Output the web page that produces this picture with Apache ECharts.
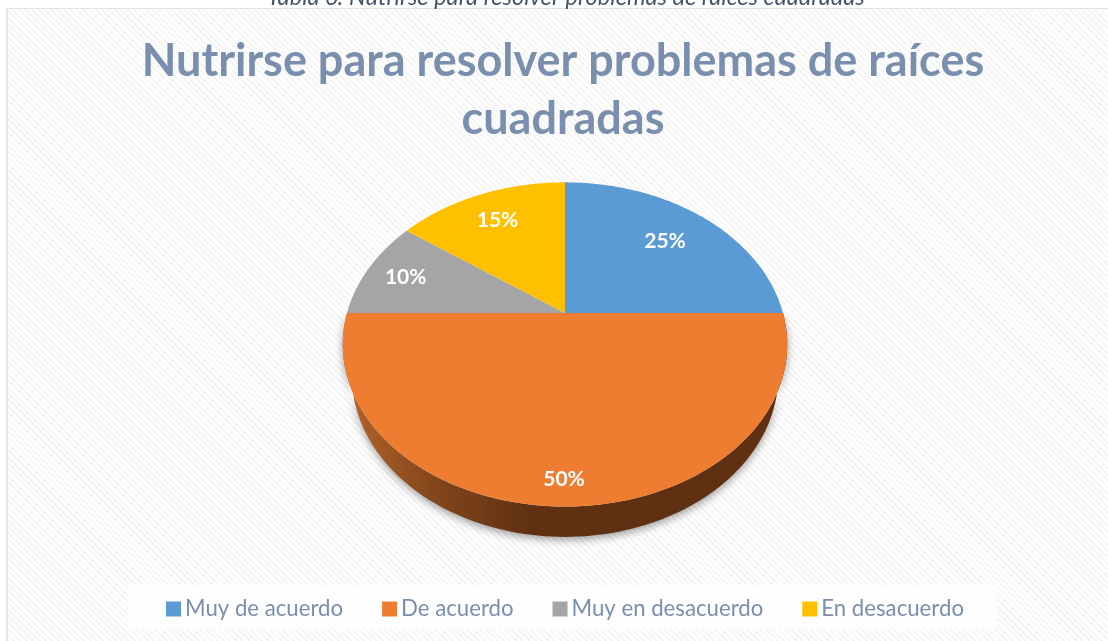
<!DOCTYPE html>
<html lang="es">
<head>
    <meta charset="UTF-8">
    <title>Nutrirse para resolver problemas de raíces cuadradas</title>
    <style>
        html, body { margin: 0; padding: 0; background: #fff; overflow: hidden; }
        #panel {
            position: absolute;
            left: 6px; top: 8px; width: 1110px; height: 640px;
            border-left: 2px solid #dfe4ea;
            border-top: 1px solid #dfe4ea;
            background: repeating-linear-gradient(45deg, #f5f5f5 0, #f5f5f5 2px, #fff 2px, #fff 4.5px);
        }
        #chart { position: absolute; left: 0; top: 0; width: 1108px; height: 641px; }
    </style>
</head>
<body>
    <div id="panel"></div>
    <div id="chart"></div>
<script src="https://cdn.jsdelivr.net/npm/echarts@6/dist/echarts.min.js"></script>
<script>
    var caption = 'Tabla 6: Nutrirse para resolver problemas de raíces cuadradas';
    var chartTitle = 'Nutrirse para resolver problemas de raíces\ncuadradas';
    var categories = ['Muy de acuerdo', 'De acuerdo', 'Muy en desacuerdo', 'En desacuerdo'];
    var values = [25, 50, 10, 15];
    var colors = ['#5b9bd5', '#ef7d31', '#a5a5a5', '#ffc000'];

    // the pie is tilted with a perspective, so a plain pie series can't do it
    var cx = 565, cy = 313, rx = 218, tilt = 156, persp = 0.194;
    var baseScale = 0.96, baseDrop = 30.7;
    var labelRadius = [0.72, 0.88, 0.8, 0.76];

    function project(theta, r, scale, drop) {
        var u = Math.sin(theta) * r * scale, v = Math.cos(theta) * r;
        var d = 1 - persp * v;
        return [cx + rx * u / d, cy + (tilt * v * scale + drop) / d];
    }

    function angle(pct) {
        // 0 is at the top, going clockwise; v in project points to the viewer
        return Math.PI - pct / 100 * 2 * Math.PI;
    }

    function makeItem(idx) {
        return function (params, api) {
            var a0 = angle(api.value(0)), a1 = angle(api.value(1));
            var steps = 120, top = [[cx, cy]], front = [], i, t;
            for (i = 0; i <= steps; i++) {
                t = a0 + (a1 - a0) * i / steps;
                top.push(project(t, 1, 1, 0));
                if (Math.cos(t) >= -0.001) front.push(t);
            }
            var children = [];
            if (front.length > 1) {
                var upper = front.map(function (t) { return project(t, 1, 1, 0); });
                var lower = front.map(function (t) { return project(t, 1, baseScale, baseDrop); }).reverse();
                children.push({
                    type: 'polygon',
                    shape: { points: upper.concat(lower) },
                    style: {
                        fill: new echarts.graphic.LinearGradient(0, 0, 1, 0, [
                            { offset: 0, color: '#b5652a' },
                            { offset: 0.2, color: '#84471c' },
                            { offset: 0.42, color: '#5f3112' },
                            { offset: 1, color: '#5f3112' }
                        ]),
                        shadowBlur: 9,
                        shadowColor: 'rgba(0,0,0,0.38)',
                        shadowOffsetY: 3
                    }
                });
            }
            children.push({
                type: 'polygon',
                shape: { points: top },
                style: { fill: colors[idx] }
            });
            var pos = project((a0 + a1) / 2, labelRadius[idx], 1, 0);
            children.push({
                type: 'text',
                x: pos[0] - 1,
                y: pos[1] + 1,
                style: {
                    text: (api.value(1) - api.value(0)) + '%',
                    fill: '#fff',
                    font: 'bold 21px Lato',
                    align: 'center',
                    verticalAlign: 'middle'
                }
            });
            return { type: 'group', children: children };
        };
    }

    var sum = 0;
    var series = categories.map(function (name, i) {
        var start = sum;
        sum += values[i];
        return {
            type: 'custom',
            name: name,
            coordinateSystem: 'none',
            itemStyle: { color: colors[i] },
            renderItem: makeItem(i),
            silent: true,
            animation: false,
            data: [[start, sum]]
        };
    });

    var myChart = echarts.init(document.getElementById('chart'));
    myChart.setOption({
        animation: false,
        title: [{
            text: chartTitle,
            left: 558,
            top: 27,
            textAlign: 'center',
            textStyle: { color: '#7a8fae', fontFamily: 'Lato', fontWeight: 'bold', fontSize: 45, lineHeight: 58 }
        }, {
            text: caption,
            left: 561,
            top: -20,
            textAlign: 'center',
            textStyle: { color: '#44546a', fontFamily: 'Lato', fontStyle: 'italic', fontWeight: 'normal', fontSize: 23.6 }
        }],
        legend: {
            data: categories,
            left: 128,
            top: 585,
            width: 871,
            height: 46,
            padding: [13, 33, 9, 38],
            itemGap: 39,
            itemWidth: 15,
            itemHeight: 15,
            icon: 'rect',
            selectedMode: false,
            backgroundColor: 'rgba(255,255,255,0.75)',
            textStyle: { color: '#7a8fae', fontFamily: 'Lato', fontSize: 22.2, padding: [0, 0, 0, -1] }
        },
        series: series
    });
</script>
</body>
</html>
